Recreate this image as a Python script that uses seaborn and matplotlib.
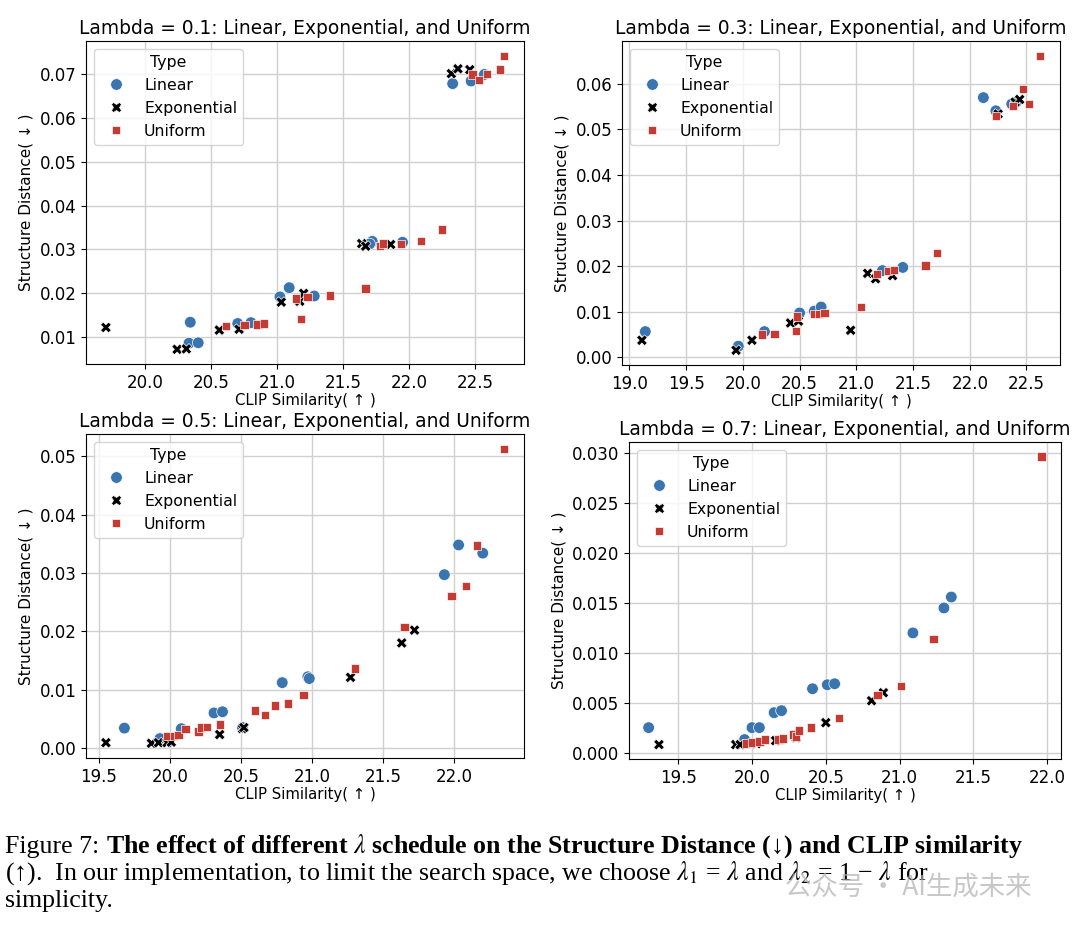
import pandas as pd
import matplotlib
matplotlib.use("Agg")
import matplotlib.pyplot as plt
import seaborn as sns

# Values (CLIP similarity, structure distance)
lambdas = ["0.1", "0.3", "0.5", "0.7"]
types = ["Linear", "Exponential", "Uniform"]

lin_x_01 = [20.34, 20.33, 20.40, 20.70, 20.80, 21.02, 21.09, 21.28, 21.72, 21.70, 21.95, 22.33, 22.47, 22.57]
lin_y_01 = [0.0133, 0.0085, 0.0086, 0.0130, 0.0132, 0.0191, 0.0212, 0.0193, 0.0318, 0.0312, 0.0316, 0.0679, 0.0685, 0.0700]
exp_x_01 = [19.70, 20.24, 20.31, 20.56, 20.71, 21.03, 21.17, 21.20, 21.64, 21.67, 21.86, 22.32, 22.37, 22.46]
exp_y_01 = [0.0121, 0.0071, 0.0072, 0.0115, 0.0117, 0.0179, 0.0181, 0.0199, 0.0313, 0.0307, 0.0311, 0.0702, 0.0713, 0.0711]
uni_x_01 = [20.61, 20.75, 20.85, 20.90, 21.14, 21.18, 21.23, 21.40, 21.67, 21.78, 21.80, 21.94, 22.09, 22.25, 22.48, 22.53, 22.59, 22.69, 22.72]
uni_y_01 = [0.0125, 0.0127, 0.0128, 0.0130, 0.0187, 0.0140, 0.0190, 0.0194, 0.0210, 0.0307, 0.0313, 0.0312, 0.0319, 0.0345, 0.0700, 0.0688, 0.0701, 0.0711, 0.0743]

lin_x_03 = [19.14, 19.96, 20.19, 20.50, 20.63, 20.69, 21.23, 21.41, 22.12, 22.23, 22.37, 22.41]
lin_y_03 = [0.0056, 0.0024, 0.0056, 0.0097, 0.0101, 0.0110, 0.0190, 0.0197, 0.0570, 0.0541, 0.0556, 0.0560]
exp_x_03 = [19.11, 19.94, 20.08, 20.42, 20.49, 20.95, 21.10, 21.17, 21.32, 22.25, 22.40, 22.44]
exp_y_03 = [0.0037, 0.0015, 0.0037, 0.0075, 0.0079, 0.0059, 0.0184, 0.0172, 0.0179, 0.0534, 0.0560, 0.0566]
uni_x_03 = [20.17, 20.28, 20.47, 20.48, 20.63, 20.67, 20.72, 21.04, 21.18, 21.28, 21.33, 21.61, 21.71, 22.23, 22.38, 22.47, 22.52, 22.62]
uni_y_03 = [0.0050, 0.0051, 0.0057, 0.0089, 0.0094, 0.0094, 0.0097, 0.0110, 0.0183, 0.0189, 0.0192, 0.0201, 0.0229, 0.0530, 0.0552, 0.0589, 0.0556, 0.0662]

lin_x_05 = [19.68, 19.93, 20.08, 20.31, 20.37, 20.51, 20.79, 20.97, 20.98, 21.93, 22.03, 22.20]
lin_y_05 = [0.0034, 0.0016, 0.0033, 0.0060, 0.0062, 0.0035, 0.0112, 0.0122, 0.0119, 0.0297, 0.0348, 0.0334]
exp_x_05 = [19.55, 19.87, 19.92, 19.98, 20.01, 20.35, 20.51, 20.52, 21.27, 21.63, 21.72]
exp_y_05 = [0.0009, 0.0008, 0.0009, 0.0009, 0.0010, 0.0023, 0.0033, 0.0035, 0.0121, 0.0180, 0.0202]
uni_x_05 = [19.98, 20.03, 20.06, 20.11, 20.20, 20.22, 20.26, 20.35, 20.60, 20.67, 20.74, 20.83, 20.94, 21.30, 21.65, 21.98, 22.08, 22.16, 22.35]
uni_y_05 = [0.0020, 0.0021, 0.0022, 0.0033, 0.0028, 0.0035, 0.0036, 0.0040, 0.0064, 0.0056, 0.0073, 0.0076, 0.0091, 0.0136, 0.0207, 0.0260, 0.0278, 0.0347, 0.0513]

lin_x_07 = [19.30, 19.95, 20.00, 20.05, 20.15, 20.20, 20.41, 20.51, 20.56, 21.09, 21.30, 21.35]
lin_y_07 = [0.0025, 0.0013, 0.0025, 0.0025, 0.0040, 0.0042, 0.0064, 0.0068, 0.0069, 0.0120, 0.0145, 0.0156]
exp_x_07 = [19.37, 19.89, 19.92, 20.03, 20.16, 20.30, 20.50, 20.81, 20.89]
exp_y_07 = [0.0008, 0.0008, 0.0008, 0.0009, 0.0012, 0.0015, 0.0030, 0.0052, 0.0060]
uni_x_07 = [19.96, 20.00, 20.05, 20.09, 20.18, 20.21, 20.28, 20.30, 20.32, 20.40, 20.59, 20.85, 21.01, 21.23, 21.96]
uni_y_07 = [0.0009, 0.0010, 0.0011, 0.0013, 0.0013, 0.0014, 0.0018, 0.0016, 0.0022, 0.0025, 0.0035, 0.0058, 0.0067, 0.0114, 0.0297]

panel_data = {
    "0.1": (lin_x_01, lin_y_01, exp_x_01, exp_y_01, uni_x_01, uni_y_01),
    "0.3": (lin_x_03, lin_y_03, exp_x_03, exp_y_03, uni_x_03, uni_y_03),
    "0.5": (lin_x_05, lin_y_05, exp_x_05, exp_y_05, uni_x_05, uni_y_05),
    "0.7": (lin_x_07, lin_y_07, exp_x_07, exp_y_07, uni_x_07, uni_y_07),
}

palette = {"Linear": "#3a75b0", "Exponential": "black", "Uniform": "#c63a34"}
markers = {"Linear": "o", "Exponential": "X", "Uniform": "s"}
sizes = {"Linear": 70, "Exponential": 60, "Uniform": 36}


def make_df(lx, ly, ex, ey, ux, uy):
    frames = []
    for name, xs, ys in zip(types, [lx, ex, ux], [ly, ey, uy]):
        frames.append(pd.DataFrame({"CLIP": xs, "SD": ys, "Type": name}))
    return pd.concat(frames, ignore_index=True)


W, H = 1080, 930
fig = plt.figure(figsize=(W / 100, H / 100), dpi=100)

# axes boxes in pixels: left, top, right, bottom
boxes = {
    "0.1": (86, 41, 524, 364),
    "0.3": (622, 41, 1060, 365),
    "0.5": (86, 434, 524, 758),
    "0.7": (629, 442, 1061, 759),
}

for lam in lambdas:
    l, t, r, b = boxes[lam]
    ax = fig.add_axes([l / W, 1 - b / H, (r - l) / W, (b - t) / H])
    df = make_df(*panel_data[lam])
    sns.scatterplot(data=df, x="CLIP", y="SD", hue="Type", style="Type", size="Type",
                    palette=palette, markers=markers, sizes=sizes, ax=ax, zorder=3)
    ax.grid(True, color="#d0d0d0", linewidth=1)
    ax.set_axisbelow(True)
    ax.tick_params(labelsize=12)
    ax.set_title(f"Lambda = {lam}: Linear, Exponential, and Uniform", fontsize=13.4, pad=5)
    ax.set_xlabel("CLIP Similarity( ↑ )", fontsize=10.7, labelpad=1)
    ax.set_ylabel("Structure Distance( ↓ )", fontsize=11)
    sns.move_legend(ax, "upper left", title="Type", fontsize=11.3, title_fontsize=11.3)

# caption below the panels
serif = ["Liberation Serif", "DejaVu Serif"]
plt.rcParams["mathtext.fontset"] = "stix"
fs = 18.6
x0 = 5 / W
t1 = fig.text(x0, 1 - 853 / H, "Figure 7: ", fontsize=fs, family=serif)
fig.canvas.draw()
rend = fig.canvas.get_renderer()
w1 = t1.get_window_extent(rend).width / W
fig.text(x0 + w1, 1 - 853 / H,
         r"The effect of different $\lambda$ schedule on the Structure Distance (↓) and CLIP similarity",
         fontsize=fs, family=serif, weight="bold")
fig.text(x0, 1 - 880 / H,
         r"(↑).  In our implementation, to limit the search space, we choose $\lambda_1$ = $\lambda$ and $\lambda_2$ = 1 − $\lambda$ for",
         fontsize=fs, family=serif)
fig.text(x0, 1 - 907 / H, "simplicity.", fontsize=fs, family=serif)

# faint watermark (sits over the caption in the reference)
fig.text(785 / W, 1 - 895 / H, "公众号 · AI生成未来", fontsize=19, color="#b0b0b0", alpha=0.7,
         family=["Noto Sans CJK SC", "DejaVu Sans"])

fig.savefig("out.png", dpi=100)
